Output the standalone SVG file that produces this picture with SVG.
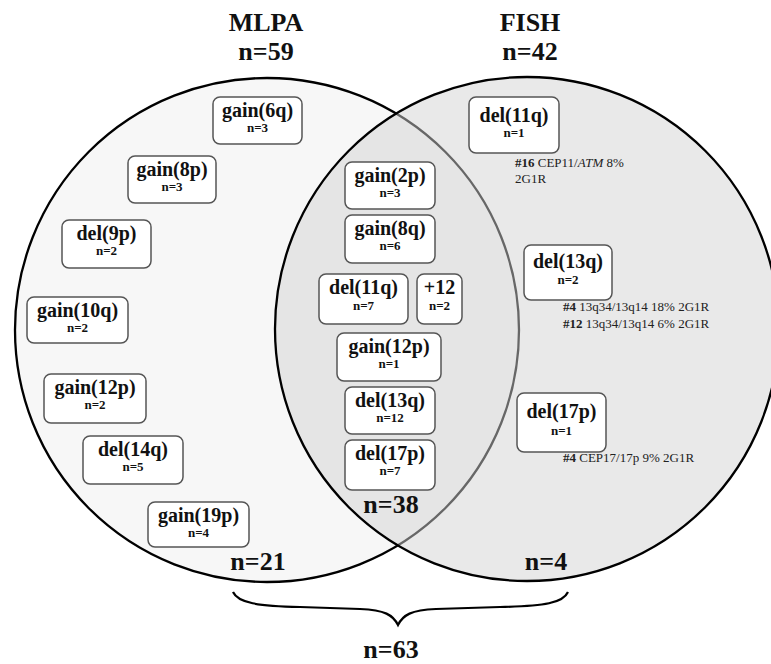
<svg xmlns="http://www.w3.org/2000/svg" width="771" height="664" viewBox="0 0 771 664">
<style>
.title{font-family:"Liberation Serif",serif;font-weight:bold;font-size:26px;fill:#111;text-anchor:middle}
.box{fill:#fff;stroke:#555;stroke-width:1.5}
.lab{font-family:"Liberation Serif",serif;font-weight:bold;font-size:20px;fill:#111;text-anchor:middle}
.n{font-family:"Liberation Serif",serif;font-weight:bold;font-size:13px;fill:#111;text-anchor:middle}
.ann{font-family:"Liberation Serif",serif;font-size:13px;fill:#222}
.cnt{font-family:"Liberation Serif",serif;font-weight:bold;font-size:26px;fill:#111;text-anchor:middle}
</style>
<rect width="771" height="664" fill="#fff"/>
<g id="sets">
<circle id="mlpa" cx="267" cy="330" r="252" fill="#f7f7f7" stroke="#000" stroke-width="2.3"/>
<circle id="fish" cx="527" cy="329" r="252" fill="#d2d2d2" fill-opacity="0.49" stroke="#000" stroke-width="2.3"/>
</g>
<text class="title" x="266" y="31">MLPA</text>
<text class="title" x="266" y="60">n=59</text>
<text class="title" x="530" y="31">FISH</text>
<text class="title" x="530" y="60">n=42</text>

<g id="n-gain6q"><rect class="box" x="213" y="97" width="89" height="47" rx="7"/><text class="lab" x="257.5" y="117">gain(6q)</text><text class="n" x="257.5" y="132">n=3</text></g>
<g id="n-gain8p"><rect class="box" x="128" y="156" width="88" height="47" rx="7"/><text class="lab" x="172" y="176">gain(8p)</text><text class="n" x="172" y="191">n=3</text></g>
<g id="n-del9p"><rect class="box" x="62" y="220" width="89" height="48" rx="7"/><text class="lab" x="106.5" y="240">del(9p)</text><text class="n" x="106.5" y="255">n=2</text></g>
<g id="n-gain10q"><rect class="box" x="27" y="297" width="101" height="46" rx="7"/><text class="lab" x="77.5" y="317">gain(10q)</text><text class="n" x="77.5" y="332">n=2</text></g>
<g id="n-gain12p-l"><rect class="box" x="44" y="374" width="102" height="49" rx="7"/><text class="lab" x="95" y="394">gain(12p)</text><text class="n" x="95" y="409">n=2</text></g>
<g id="n-del14q"><rect class="box" x="83" y="436" width="100" height="48" rx="7"/><text class="lab" x="133" y="456">del(14q)</text><text class="n" x="133" y="471">n=5</text></g>
<g id="n-gain19p"><rect class="box" x="148" y="502" width="101" height="45" rx="7"/><text class="lab" x="198.5" y="522">gain(19p)</text><text class="n" x="198.5" y="537">n=4</text></g>

<g id="n-gain2p"><rect class="box" x="345" y="162" width="90" height="47" rx="7"/><text class="lab" x="390" y="182">gain(2p)</text><text class="n" x="390" y="197">n=3</text></g>
<g id="n-gain8q"><rect class="box" x="345" y="215" width="90" height="48" rx="7"/><text class="lab" x="390" y="235">gain(8q)</text><text class="n" x="390" y="250">n=6</text></g>
<g id="n-del11q-m"><rect class="box" x="319" y="274" width="89" height="50" rx="7"/><text class="lab" x="363.5" y="294">del(11q)</text><text class="n" x="363.5" y="310">n=7</text></g>
<g id="n-plus12"><rect class="box" x="417" y="274" width="45" height="50" rx="7"/><text class="lab" x="439.5" y="294">+12</text><text class="n" x="439.5" y="310">n=2</text></g>
<g id="n-gain12p-m"><rect class="box" x="337" y="333" width="104" height="48" rx="7"/><text class="lab" x="389" y="353">gain(12p)</text><text class="n" x="389" y="368">n=1</text></g>
<g id="n-del13q-m"><rect class="box" x="345" y="387" width="90" height="47" rx="7"/><text class="lab" x="390" y="407">del(13q)</text><text class="n" x="390" y="422">n=12</text></g>
<g id="n-del17p-m"><rect class="box" x="345" y="440" width="90" height="50" rx="7"/><text class="lab" x="390" y="460">del(17p)</text><text class="n" x="390" y="475">n=7</text></g>

<g id="n-del11q-r"><rect class="box" x="469" y="97" width="90" height="56" rx="7"/><text class="lab" x="514" y="122">del(11q)</text><text class="n" x="514" y="137">n=1</text>
<text class="ann" x="515" y="167"><tspan font-weight="bold">#16</tspan> CEP11/<tspan font-style="italic">ATM</tspan> 8%</text><text class="ann" x="515" y="183">2G1R</text></g>
<g id="n-del13q-r"><rect class="box" x="524" y="245" width="88" height="55" rx="7"/><text class="lab" x="568" y="268">del(13q)</text><text class="n" x="568" y="284">n=2</text>
<text class="ann" x="563" y="311"><tspan font-weight="bold">#4</tspan> 13q34/13q14 18% 2G1R</text><text class="ann" x="563" y="328"><tspan font-weight="bold">#12</tspan> 13q34/13q14 6% 2G1R</text></g>
<g id="n-del17p-r"><rect class="box" x="517" y="393" width="89" height="59" rx="7"/><text class="lab" x="561.5" y="418">del(17p)</text><text class="n" x="561.5" y="435">n=1</text>
<text class="ann" x="563" y="462"><tspan font-weight="bold">#4</tspan> CEP17/17p 9% 2G1R</text></g>

<text class="cnt" x="391" y="513">n=38</text>
<text class="cnt" x="258" y="570">n=21</text>
<text class="cnt" x="546" y="570">n=4</text>
<g id="connectors">
<path d="M233,592 C238,603 258,606 300,607 L360,609 C385,610 393,615 398,625 C403,615 411,610 436,609 L500,607 C545,606 563,603 568,592" fill="none" stroke="#000" stroke-width="2.2"/>
</g>
<text class="cnt" x="391" y="658">n=63</text>
</svg>
